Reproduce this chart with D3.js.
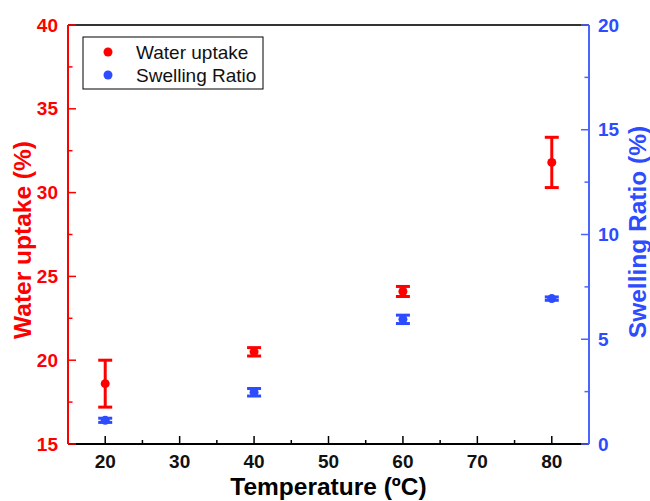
<!DOCTYPE html>
<html>
<head>
<meta charset="utf-8">
<script src="https://cdn.jsdelivr.net/npm/d3@7"></script>
<style>
  body { margin: 0; background: #fff; }
  text { font-family: Arial, "Liberation Sans", sans-serif; }
</style>
</head>
<body>
<div id="viz"></div>
<script>
const width = 650;
const height = 501;
const margin = {top: 25, right: 61, bottom: 57, left: 68};

const colorWater = '#ff0000';
const colorSwell = '#2e4cff';
const colorSwellAxis = '#4a66ff';

// Data
const temperatures = [20, 40, 60, 80];
const waterUptake = [18.6, 20.5, 24.1, 31.8];
const waterUptakeErr = [1.4, 0.25, 0.3, 1.5];
const swellingRatio = [1.13, 2.47, 5.95, 6.94];
const swellingRatioErr = [0.1, 0.18, 0.2, 0.08];

const xTicks = [20, 30, 40, 50, 60, 70, 80];
const leftTicks = [15, 20, 25, 30, 35, 40];
const rightTicks = [0, 5, 10, 15, 20];

const svg = d3.select('#viz')
  .append('svg')
    .attr('width', width)
    .attr('height', height);

const xScale = d3.scaleLinear()
  .domain([15, 85])
  .range([margin.left, width - margin.right]);
const yLeft = d3.scaleLinear()
  .domain([15, 40])
  .range([height - margin.bottom, margin.top]);
const yRight = d3.scaleLinear()
  .domain([0, 20])
  .range([height - margin.bottom, margin.top]);

const x0 = margin.left, x1 = width - margin.right;
const yb = height - margin.bottom, yt = margin.top;

// top frame line
svg.append('line')
  .attr('x1', x0).attr('x2', x1).attr('y1', yt).attr('y2', yt)
  .attr('stroke', '#333').attr('stroke-width', 2);

// Bottom axis (ticks inward)
const xAxis = svg.append('g')
  .attr('class', 'x-axis')
  .attr('transform', `translate(0, ${yb})`);
xAxis.append('line')
  .attr('x1', x0).attr('x2', x1)
  .attr('stroke', '#000').attr('stroke-width', 2);
xAxis.selectAll('.minor')
  .data(d3.range(25, 85, 10))
  .join('line')
    .attr('x1', d => xScale(d)).attr('x2', d => xScale(d))
    .attr('y1', 0).attr('y2', -4)
    .attr('stroke', '#000').attr('stroke-width', 1.5);
xAxis.selectAll('.major')
  .data(xTicks)
  .join('line')
    .attr('x1', d => xScale(d)).attr('x2', d => xScale(d))
    .attr('y1', 0).attr('y2', -8)
    .attr('stroke', '#000').attr('stroke-width', 1.5);
xAxis.selectAll('.tick-label')
  .data(xTicks)
  .join('text')
    .attr('x', d => xScale(d))
    .attr('y', 24)
    .attr('text-anchor', 'middle')
    .style('font-size', '19px')
    .style('font-weight', 'bold')
    .attr('fill', '#111')
    .text(d => d);
svg.append('text')
  .attr('x', (x0 + x1) / 2)
  .attr('y', 495)
  .attr('text-anchor', 'middle')
  .style('font-size', '24.5px')
  .style('font-weight', 'bold')
  .attr('fill', '#000')
  .text('Temperature (ºC)');

// Left axis (red)
const leftAxis = svg.append('g').attr('class', 'y-left');
leftAxis.append('line')
  .attr('x1', x0).attr('x2', x0).attr('y1', yt).attr('y2', yb)
  .attr('stroke', colorWater).attr('stroke-width', 2);
leftAxis.selectAll('.minor')
  .data(d3.range(17.5, 40, 5))
  .join('line')
    .attr('x1', x0).attr('x2', x0 + 4.5)
    .attr('y1', d => yLeft(d)).attr('y2', d => yLeft(d))
    .attr('stroke', colorWater).attr('stroke-width', 1.5);
leftAxis.selectAll('.major')
  .data(leftTicks)
  .join('line')
    .attr('x1', x0).attr('x2', x0 + 8)
    .attr('y1', d => yLeft(d)).attr('y2', d => yLeft(d))
    .attr('stroke', colorWater).attr('stroke-width', 1.5);
leftAxis.selectAll('.tick-label')
  .data(leftTicks)
  .join('text')
    .attr('x', x0 - 10)
    .attr('y', d => yLeft(d))
    .attr('dy', '0.35em')
    .attr('text-anchor', 'end')
    .style('font-size', '19px')
    .style('font-weight', 'bold')
    .attr('fill', colorWater)
    .text(d => d);
svg.append('text')
  .attr('transform', `translate(31, 240) rotate(-90)`)
  .attr('text-anchor', 'middle')
  .style('font-size', '24.5px')
  .style('font-weight', 'bold')
  .attr('fill', colorWater)
  .text('Water uptake (%)');

// Right axis (blue)
const rightAxis = svg.append('g').attr('class', 'y-right');
rightAxis.append('line')
  .attr('x1', x1).attr('x2', x1).attr('y1', yt).attr('y2', yb)
  .attr('stroke', colorSwellAxis).attr('stroke-width', 2);
rightAxis.selectAll('.minor')
  .data(d3.range(2.5, 20, 5))
  .join('line')
    .attr('x1', x1).attr('x2', x1 - 4.5)
    .attr('y1', d => yRight(d)).attr('y2', d => yRight(d))
    .attr('stroke', colorSwellAxis).attr('stroke-width', 1.5);
rightAxis.selectAll('.major')
  .data(rightTicks)
  .join('line')
    .attr('x1', x1).attr('x2', x1 - 8)
    .attr('y1', d => yRight(d)).attr('y2', d => yRight(d))
    .attr('stroke', colorSwellAxis).attr('stroke-width', 1.5);
rightAxis.selectAll('.tick-label')
  .data(rightTicks)
  .join('text')
    .attr('x', x1 + 9)
    .attr('y', d => yRight(d))
    .attr('dy', '0.35em')
    .attr('text-anchor', 'start')
    .style('font-size', '19px')
    .style('font-weight', 'bold')
    .attr('fill', colorSwell)
    .text(d => d);
svg.append('text')
  .attr('transform', `translate(646, 232) rotate(-90)`)
  .attr('text-anchor', 'middle')
  .style('font-size', '24.5px')
  .style('font-weight', 'bold')
  .attr('fill', colorSwell)
  .text('Swelling Ratio (%)');

// Error bars + points
const capHalf = 7;
function drawSeries(values, errs, yScale, color, cls) {
  const pts = temperatures.map((t, i) => ({t: t, v: values[i], e: errs[i]}));
  const g = svg.append('g').attr('class', cls);
  g.selectAll('.err')
    .data(pts)
    .join('line')
      .attr('x1', d => xScale(d.t)).attr('x2', d => xScale(d.t))
      .attr('y1', d => yScale(d.v - d.e)).attr('y2', d => yScale(d.v + d.e))
      .attr('stroke', color).attr('stroke-width', 3);
  g.selectAll('.cap-top')
    .data(pts)
    .join('line')
      .attr('x1', d => xScale(d.t) - capHalf).attr('x2', d => xScale(d.t) + capHalf)
      .attr('y1', d => yScale(d.v + d.e)).attr('y2', d => yScale(d.v + d.e))
      .attr('stroke', color).attr('stroke-width', 3);
  g.selectAll('.cap-bottom')
    .data(pts)
    .join('line')
      .attr('x1', d => xScale(d.t) - capHalf).attr('x2', d => xScale(d.t) + capHalf)
      .attr('y1', d => yScale(d.v - d.e)).attr('y2', d => yScale(d.v - d.e))
      .attr('stroke', color).attr('stroke-width', 3);
  g.selectAll('circle')
    .data(pts)
    .join('circle')
      .attr('cx', d => xScale(d.t))
      .attr('cy', d => yScale(d.v))
      .attr('r', 4.5)
      .attr('fill', color);
}
drawSeries(waterUptake, waterUptakeErr, yLeft, colorWater, 'water');
drawSeries(swellingRatio, swellingRatioErr, yRight, colorSwell, 'swell');

// Legend
const legend = svg.append('g')
  .attr('class', 'legend')
  .attr('transform', 'translate(83, 37)');
legend.append('rect')
  .attr('width', 180).attr('height', 52)
  .attr('fill', '#fff').attr('stroke', '#000').attr('stroke-width', 1);
const legendItems = [
  {label: 'Water uptake', color: colorWater},
  {label: 'Swelling Ratio', color: colorSwell}
];
legend.selectAll('circle')
  .data(legendItems)
  .join('circle')
    .attr('cx', 25)
    .attr('cy', (d, i) => 15 + i * 23)
    .attr('r', 4.5)
    .attr('fill', d => d.color);
legend.selectAll('text')
  .data(legendItems)
  .join('text')
    .attr('x', 53)
    .attr('y', (d, i) => 15 + i * 23)
    .attr('dy', '0.35em')
    .style('font-size', '19px')
    .attr('fill', '#111')
    .text(d => d.label);
</script>
</body>
</html>
